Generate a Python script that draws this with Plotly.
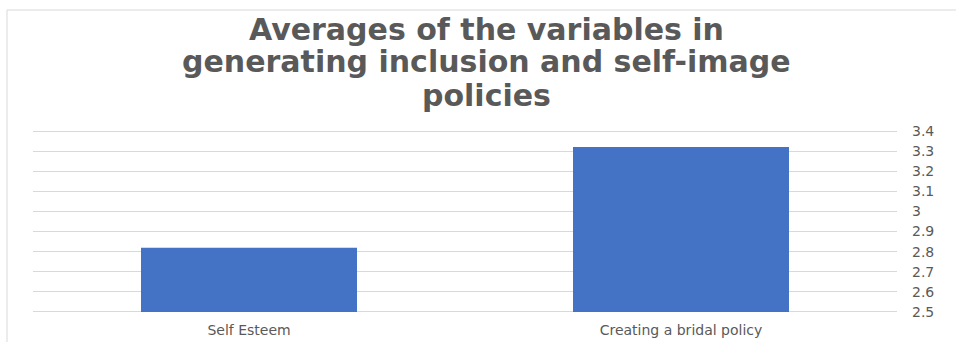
import plotly.graph_objects as go

# Mean scores per variable
categories = ["Self Esteem", "Creating a bridal policy"]
averages = [2.82, 3.32]

# Value axis ticks
y_ticks = [2.5, 2.6, 2.7, 2.8, 2.9, 3.0, 3.1, 3.2, 3.3, 3.4]
y_tick_text = ["2.5", "2.6", "2.7", "2.8", "2.9", "3", "3.1", "3.2", "3.3", "3.4"]

title_lines = [
    "Averages of the variables in",
    "generating inclusion and self-image",
    "policies",
]

AXIS_FLOOR = 2.5
W, H = 956, 342
M_L, M_R, M_T, M_B = 33, 59, 129, 28
PW, PH = W - M_L - M_R, H - M_T - M_B


def px_x(x):
    return (x - M_L) / PW


def px_y(y):
    return (H - M_B - y) / PH


fig = go.Figure(
    go.Bar(
        x=categories,
        y=[v - AXIS_FLOOR for v in averages],
        base=AXIS_FLOOR,
        marker=dict(color="#4472C4", line=dict(width=0)),
        hoverinfo="skip",
    )
)

# Title drawn line by line for tight spacing
line_centers_px = [29, 62, 95]
annotations = [
    dict(
        text=t,
        xref="paper", yref="paper",
        x=px_x(487), xanchor="center",
        y=px_y(c), yanchor="middle",
        showarrow=False,
        font=dict(family="DejaVu Sans", size=30, color="#595959", weight="bold"),
    )
    for t, c in zip(title_lines, line_centers_px)
]

fig.update_layout(
    width=W,
    height=H,
    margin=dict(l=M_L, r=M_R, t=M_T, b=M_B),
    paper_bgcolor="white",
    plot_bgcolor="white",
    bargap=0.5,
    showlegend=False,
    annotations=annotations,
    xaxis=dict(
        showgrid=False,
        showline=False,
        ticks="",
        automargin=False,
        ticklabelstandoff=6,
        tickfont=dict(family="DejaVu Sans", size=14, color="#595959"),
    ),
    yaxis=dict(
        side="right",
        range=[2.49, 3.41],
        tickvals=y_ticks,
        ticktext=y_tick_text,
        showgrid=True,
        gridcolor="#D9D9D9",
        gridwidth=1,
        zeroline=False,
        showline=False,
        ticks="",
        automargin=False,
        ticklabelstandoff=14,
        tickfont=dict(family="DejaVu Sans", size=14, color="#595959"),
    ),
    shapes=[
        dict(
            type="rect",
            xref="paper", yref="paper",
            x0=px_x(7), x1=px_x(960),
            y0=px_y(350), y1=px_y(10),
            line=dict(color="#D9D9D9", width=1),
            fillcolor="rgba(0,0,0,0)",
            layer="below",
        )
    ],
)

fig.write_html("out.html")
